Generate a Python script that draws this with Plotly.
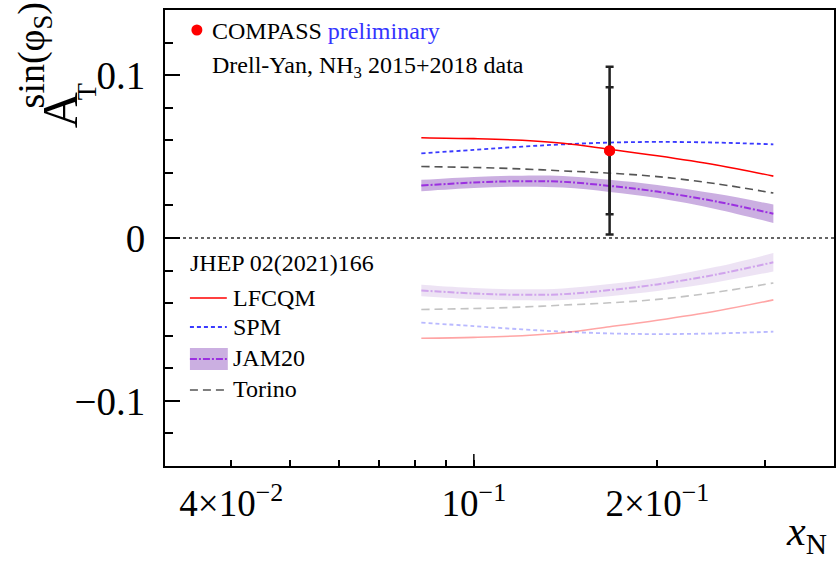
import numpy as np
import plotly.graph_objects as go

# x_N grid at which the model predictions are tabulated
x_model = [0.082, 0.10, 0.12, 0.14, 0.167, 0.20, 0.25, 0.31]

# model predictions for A_T^{sin(phi_S)}
lfcqm = [0.0616, 0.0610, 0.0600, 0.0582, 0.0545, 0.0505, 0.0448, 0.0380]
spm = [0.0520, 0.0541, 0.0561, 0.0575, 0.0586, 0.0590, 0.0586, 0.0575]
torino = [0.0439, 0.0433, 0.0424, 0.0412, 0.0398, 0.0377, 0.0333, 0.0276]
jam20 = [0.0322, 0.0341, 0.0349, 0.0345, 0.0320, 0.0285, 0.0224, 0.0149]
jam20_err = [0.0035, 0.0034, 0.0034, 0.0035, 0.0037, 0.0040, 0.0047, 0.0057]

# COMPASS measurement
x_data = [0.167]
a_data = [0.0536]
a_tot_err = [0.0515]
a_sys_err = [0.039]

# axis ticks
x_tickvals = [0.04, 0.1, 0.2]
x_ticktext = ["4×10<sup>−2</sup>", "10<sup>−1</sup>", "2×10<sup>−1</sup>"]
x_minor = [0.05, 0.06, 0.07, 0.08, 0.09, 0.3]
y_tickvals = [-0.1, 0.0, 0.1]
y_ticktext = ["−0.1", "0", "0.1"]

FONT = "Liberation Serif, Times New Roman, serif"
RED = "#ff0000"
BLUE = "#3a3aff"
GREY = "#555555"
PURPLE = "#9b30e0"
BAND_RGB = "160,110,200"
BAND = "rgba(%s,0.55)" % BAND_RGB

W, H = 840, 564
ML, MR, MT, MB = 165, 4, 10, 98
PW, PH = W - ML - MR, H - MT - MB


def px(xp):
    return (xp - ML) / PW


def py(yp):
    return (H - MB - yp) / PH


fig = go.Figure()


def add_models(sign, opacity):
    xs = np.array(x_model)
    c = sign * np.array(jam20)
    e = np.array(jam20_err)
    band = "rgba(%s,%.3f)" % (BAND_RGB, 0.55 * opacity)
    # JAM20 uncertainty band: lower edge, then upper edge filled to it
    fig.add_trace(go.Scatter(x=xs, y=c - e, mode="lines",
                             line=dict(width=0, shape="spline", color=band),
                             hoverinfo="skip", showlegend=False))
    fig.add_trace(go.Scatter(x=xs, y=c + e, mode="lines",
                             fill="tonexty", fillcolor=band,
                             line=dict(width=0, shape="spline", color=band),
                             hoverinfo="skip", showlegend=False))
    fig.add_trace(go.Scatter(x=xs, y=c, mode="lines", opacity=opacity,
                             line=dict(color=PURPLE, width=2, dash="7px,2px,2px,2px",
                                       shape="spline"),
                             showlegend=False))
    fig.add_trace(go.Scatter(x=xs, y=sign * np.array(torino), mode="lines", opacity=opacity,
                             line=dict(color=GREY, width=1.6, dash="8px,5px", shape="spline"),
                             showlegend=False))
    fig.add_trace(go.Scatter(x=xs, y=sign * np.array(spm), mode="lines", opacity=opacity,
                             line=dict(color=BLUE, width=1.8, dash="4px,3px", shape="spline"),
                             showlegend=False))
    fig.add_trace(go.Scatter(x=xs, y=sign * np.array(lfcqm), mode="lines", opacity=opacity,
                             line=dict(color=RED, width=1.6, shape="spline"),
                             showlegend=False))


add_models(1, 1.0)
add_models(-1, 0.35)

# measured point: total and systematic error bars
fig.add_trace(go.Scatter(
    x=x_data, y=a_data, mode="markers",
    marker=dict(color=RED, size=11),
    error_y=dict(type="data", array=a_tot_err, color="#222222", thickness=2.5, width=4),
    showlegend=False))
fig.add_trace(go.Scatter(
    x=x_data, y=a_data, mode="markers",
    marker=dict(color=RED, size=11),
    error_y=dict(type="data", array=a_sys_err, color="#222222", thickness=2.5, width=4),
    showlegend=False))

shapes = []
# zero reference line
shapes.append(dict(type="line", xref="paper", yref="y", x0=0, x1=1, y0=0, y1=0,
                   line=dict(color="#333333", width=1.5, dash="3px,3px"), layer="below"))
# longer tick at the decade
shapes.append(dict(type="line", xref="x", yref="paper", x0=0.1, x1=0.1, y0=0, y1=12 / PH,
                   line=dict(color="black", width=1.5)))

# legend samples
leg_x0, leg_x1 = px(190), px(227)
shapes.append(dict(type="line", xref="paper", yref="paper", x0=leg_x0, x1=leg_x1,
                   y0=py(298), y1=py(298), line=dict(color=RED, width=1.6)))
shapes.append(dict(type="line", xref="paper", yref="paper", x0=leg_x0, x1=leg_x1,
                   y0=py(327), y1=py(327), line=dict(color=BLUE, width=1.8, dash="4px,3px")))
shapes.append(dict(type="rect", xref="paper", yref="paper", x0=leg_x0, x1=px(228),
                   y0=py(370), y1=py(348), fillcolor=BAND, line=dict(width=0)))
shapes.append(dict(type="line", xref="paper", yref="paper", x0=leg_x0, x1=leg_x1,
                   y0=py(359), y1=py(359), line=dict(color=PURPLE, width=2, dash="7px,2px,2px,2px")))
shapes.append(dict(type="line", xref="paper", yref="paper", x0=leg_x0, x1=leg_x1,
                   y0=py(390), y1=py(390), line=dict(color=GREY, width=1.6, dash="8px,5px")))

annotations = []


def txt(s, xp, yp, size, color="black", xanchor="left", angle=0):
    annotations.append(dict(text=s, x=px(xp), y=py(yp), xref="paper", yref="paper",
                            xanchor=xanchor, yanchor="middle", showarrow=False,
                            textangle=angle, font=dict(family=FONT, size=size, color=color)))


txt("COMPASS <span style='color:%s'>preliminary</span>" % "#3434ff", 210, 31, 24)
txt("Drell-Yan, NH<sub>3</sub> 2015+2018 data", 210, 67, 24)
txt("JHEP 02(2021)166", 188, 263, 24)
txt("LFCQM", 231, 298, 24)
txt("SPM", 231, 327, 24)
txt("JAM20", 231, 358, 24)
txt("Torino", 231, 389, 24)

# y axis title, stacked sub/superscript
txt("A", 60, 110, 50, xanchor="center", angle=-90)
txt("T", 86, 92, 28, xanchor="center", angle=-90)
txt("sin(φ<sub>S</sub>)", 34, 55, 38, xanchor="center", angle=-90)
# x axis title
txt("<i>x</i><sub>N</sub>", 808, 534, 42, xanchor="center")

# legend marker for the data
fig.add_trace(go.Scatter(x=[px(197)], y=[py(30)], xaxis="x2", yaxis="y2", mode="markers",
                         marker=dict(color=RED, size=11), showlegend=False))

fig.update_layout(
    width=W, height=H,
    margin=dict(l=ML, r=MR, t=MT, b=MB),
    paper_bgcolor="white", plot_bgcolor="white",
    font=dict(family=FONT, color="black"),
    showlegend=False,
    shapes=shapes, annotations=annotations,
    xaxis=dict(type="log", range=[np.log10(0.03114), np.log10(0.3898)],
               tickmode="array", tickvals=x_tickvals, ticktext=x_ticktext,
               ticks="inside", ticklen=6, tickwidth=1.5, tickcolor="black",
               tickfont=dict(family=FONT, size=37), ticklabelstandoff=4,
               minor=dict(tickmode="array", tickvals=x_minor, ticks="inside",
                          ticklen=6, tickwidth=1.5, tickcolor="black", showgrid=False),
               showline=True, linecolor="black", linewidth=2, mirror=True,
               showgrid=False, zeroline=False),
    yaxis=dict(range=[-0.14, 0.14],
               tickmode="array", tickvals=y_tickvals, ticktext=y_ticktext,
               ticks="inside", ticklen=15, tickwidth=1.5, tickcolor="black",
               tickfont=dict(family=FONT, size=39), ticklabelstandoff=10,
               minor=dict(dtick=0.02, tick0=0, ticks="inside", ticklen=8,
                          tickwidth=1.5, tickcolor="black", showgrid=False),
               showline=True, linecolor="black", linewidth=2, mirror=True,
               showgrid=False, zeroline=False),
    xaxis2=dict(overlaying="x", range=[0, 1], visible=False),
    yaxis2=dict(overlaying="y", range=[0, 1], visible=False),
)

fig.write_html("out.html")
